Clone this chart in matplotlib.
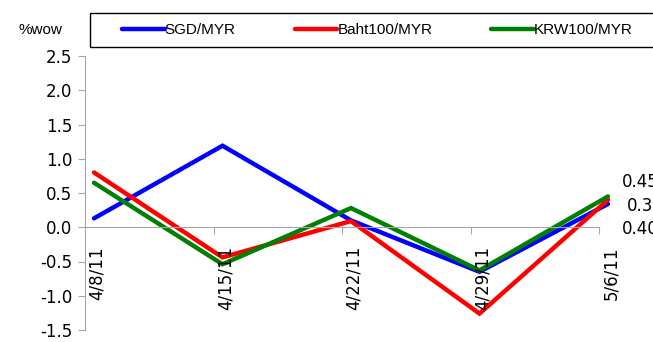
import numpy as np
import matplotlib
matplotlib.use("Agg")
import matplotlib.pyplot as plt
from matplotlib.patches import Rectangle
from matplotlib.transforms import offset_copy

# Weekly % change of MYR crosses
dates = ["4/8/11", "4/15/11", "4/22/11", "4/29/11", "5/6/11"]
sgd_myr = [0.13, 1.19, 0.10, -0.65, 0.34]
baht_myr = [0.80, -0.44, 0.09, -1.26, 0.40]
krw_myr = [0.65, -0.54, 0.28, -0.63, 0.45]
series_names = ["SGD/MYR", "Baht100/MYR", "KRW100/MYR"]
series_colors = ["#0000FF", "#FF0000", "#008000"]
y_ticks = [-1.5, -1.0, -0.5, 0.0, 0.5, 1.0, 1.5, 2.0, 2.5]

W, H = 653, 342
fig = plt.figure(figsize=(W / 100, H / 100), dpi=100)
ax = fig.add_axes([85 / W, 1 - 330 / H, 514 / W, 274 / H])

tick_font = dict(family="DejaVu Sans", size=12)
axis_grey = "#A6A6A6"

x_cat = np.arange(len(dates))
x_pts = x_cat + 0.07  # points sit slightly right of the category ticks

lines = []
for vals, name, col in zip([sgd_myr, baht_myr, krw_myr], series_names, series_colors):
    ln, = ax.plot(x_pts, vals, color=col, lw=3.2, solid_capstyle="round",
                  solid_joinstyle="miter", clip_on=False, label=name)
    lines.append(ln)

ax.set_xlim(0, len(dates) - 1)
ax.set_ylim(y_ticks[0], y_ticks[-1])
ax.set_yticks(y_ticks)
ax.set_yticklabels([f"{v:.1f}" for v in y_ticks], **tick_font)

for s in ["top", "right"]:
    ax.spines[s].set_visible(False)
ax.spines["left"].set_color(axis_grey)
ax.spines["bottom"].set_position(("data", 0))
ax.spines["bottom"].set_color(axis_grey)
ax.tick_params(axis="y", direction="out", length=5, color=axis_grey, pad=4)
ax.tick_params(axis="x", direction="out", length=5, color=axis_grey)
ax.set_xticks(x_cat[1:])
ax.set_xticklabels([])

# category labels, rotated, hanging below the zero line
lbl_tr = offset_copy(ax.transData, fig=fig, x=12, y=-19, units="dots")
for xc, d in zip(x_cat, dates):
    ax.text(xc, 0, d, rotation=90, ha="center", va="top",
            transform=lbl_tr, **tick_font)

# end-of-series value labels
end_labels = [(krw_myr[-1], 622, 182), (sgd_myr[-1], 627, 206), (baht_myr[-1], 622, 229)]
for v, xpix, ypix in end_labels:
    fig.text(xpix / W, 1 - ypix / H, f"{v:.2f}", ha="left", va="center",
             **tick_font)

fig.text(40 / W, 1 - 30 / H, "%wow", ha="center", va="center",
         family="Liberation Sans", size=11)

# legend box running off the right edge
fig.patches.append(Rectangle((90 / W, 1 - 47 / H), 620 / W, 34 / H,
                             transform=fig.transFigure, facecolor="white",
                             edgecolor="black", lw=1.0, zorder=1))
leg = fig.legend(handles=lines, labels=series_names, ncol=3,
                 loc="center left", bbox_to_anchor=(122 / W, 1 - 30 / H),
                 borderaxespad=0, borderpad=0, frameon=False,
                 handlelength=2.8, handletextpad=0.0, columnspacing=3.85,
                 prop=dict(family="Liberation Sans", size=11))

fig.savefig("out.png", dpi=100)
